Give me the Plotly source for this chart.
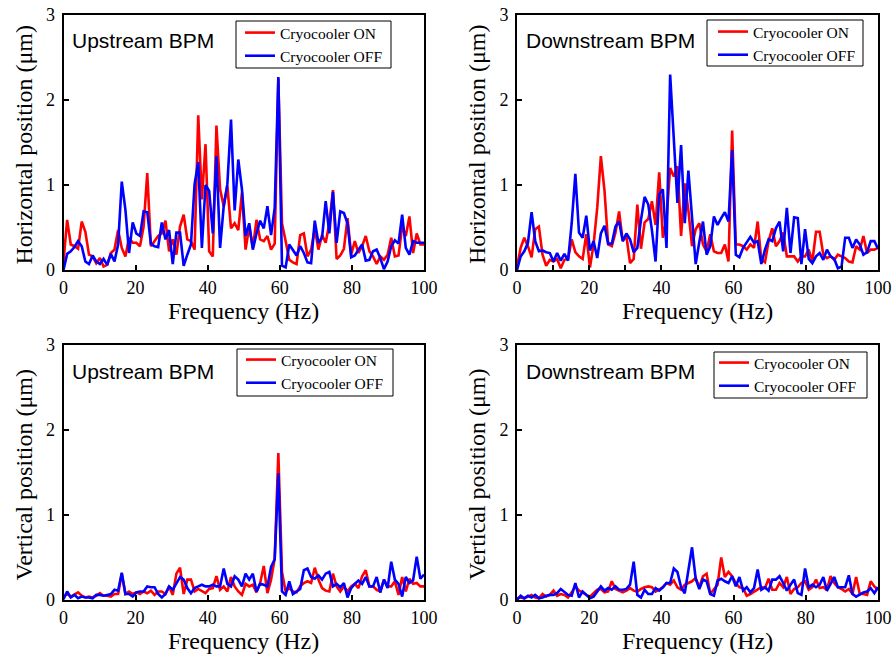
import numpy as np
import plotly.graph_objects as go
from plotly.subplots import make_subplots

# Frequency grid of the vibration spectra (Hz)
freq = np.linspace(0, 100, 100)

# Horizontal position spectra, upstream BPM (um)
h_up_on = [0.10, 0.59, 0.30, 0.28, 0.25, 0.57, 0.45, 0.18, 0.16, 0.08,
           0.14, 0.04, 0.06, 0.20, 0.24, 0.47, 0.26, 0.16, 0.38, 0.32,
           0.32, 0.28, 0.51, 1.14, 0.28, 0.34, 0.40, 0.43, 0.58, 0.22,
           0.36, 0.18, 0.51, 0.65, 0.36, 0.34, 0.24, 1.82, 0.83, 1.48,
           0.22, 0.16, 1.70, 0.95, 0.75, 0.99, 0.49, 0.55, 0.47, 0.91,
           0.24, 0.51, 0.26, 0.59, 0.36, 0.34, 0.40, 0.24, 0.31, 2.25,
           0.55, 0.34, 0.12, 0.09, 0.07, 0.41, 0.43, 0.16, 0.24, 0.49,
           0.24, 0.41, 0.32, 0.55, 0.94, 0.13, 0.17, 0.25, 0.61, 0.18,
           0.34, 0.20, 0.28, 0.40, 0.22, 0.16, 0.07, 0.16, 0.12, 0.18,
           0.38, 0.16, 0.17, 0.51, 0.40, 0.63, 0.20, 0.43, 0.30, 0.30]
h_up_off = [0.00, 0.19, 0.22, 0.27, 0.34, 0.28, 0.10, 0.07, 0.17, 0.10,
            0.07, 0.13, 0.06, 0.19, 0.10, 0.30, 1.04, 0.71, 0.20, 0.56,
            0.43, 0.40, 0.69, 0.68, 0.31, 0.28, 0.27, 0.56, 0.36, 0.47,
            0.07, 0.44, 0.44, 0.05, 0.18, 0.30, 1.01, 1.27, 0.26, 1.00,
            0.93, 0.43, 1.34, 0.26, 0.75, 1.01, 1.77, 0.70, 1.30, 0.95,
            0.40, 0.55, 0.24, 0.43, 0.58, 0.49, 0.75, 0.41, 0.73, 2.27,
            0.05, 0.03, 0.30, 0.23, 0.17, 0.28, 0.20, 0.09, 0.08, 0.58,
            0.32, 0.38, 0.81, 0.43, 0.92, 0.32, 0.69, 0.67, 0.55, 0.15,
            0.17, 0.24, 0.30, 0.11, 0.12, 0.22, 0.24, 0.14, 0.01, 0.10,
            0.28, 0.35, 0.31, 0.65, 0.26, 0.18, 0.34, 0.32, 0.32, 0.32]

# Horizontal position spectra, downstream BPM (um)
h_down_on = [0.04, 0.26, 0.38, 0.28, 0.15, 0.48, 0.51, 0.18, 0.05, 0.12,
             0.10, 0.13, 0.02, 0.12, 0.13, 0.36, 0.21, 0.16, 0.13, 0.42,
             0.03, 0.30, 0.73, 1.34, 0.93, 0.30, 0.28, 0.44, 0.69, 0.34,
             0.40, 0.08, 0.13, 0.77, 0.25, 0.56, 0.60, 0.81, 0.53, 1.15,
             0.38, 0.60, 1.20, 1.10, 1.22, 0.40, 1.02, 0.70, 0.28, 0.48,
             0.55, 0.30, 0.22, 0.42, 0.22, 0.20, 0.20, 0.30, 0.10, 1.64,
             0.30, 0.30, 0.28, 0.24, 0.30, 0.26, 0.57, 0.12, 0.09, 0.34,
             0.49, 0.28, 0.34, 0.44, 0.16, 0.16, 0.16, 0.10, 0.16, 0.16,
             0.24, 0.10, 0.45, 0.45, 0.18, 0.14, 0.16, 0.12, 0.18, 0.16,
             0.14, 0.10, 0.09, 0.28, 0.24, 0.40, 0.20, 0.24, 0.24, 0.26]
h_down_off = [0.00, 0.16, 0.22, 0.32, 0.68, 0.34, 0.22, 0.23, 0.21, 0.20,
              0.10, 0.20, 0.11, 0.19, 0.11, 0.55, 1.13, 0.44, 0.38, 0.64,
              0.23, 0.34, 0.14, 0.43, 0.52, 0.31, 0.31, 0.51, 0.57, 0.34,
              0.43, 0.36, 0.21, 0.26, 0.59, 0.86, 0.77, 0.47, 0.10, 0.89,
              0.95, 0.26, 2.30, 1.50, 0.79, 1.47, 0.55, 1.17, 0.60, 0.07,
              0.33, 0.57, 0.18, 0.28, 0.63, 0.53, 0.61, 0.68, 0.57, 1.41,
              0.18, 0.15, 0.26, 0.32, 0.39, 0.32, 0.34, 0.07, 0.24, 0.36,
              0.34, 0.49, 0.57, 0.22, 0.73, 0.20, 0.62, 0.61, 0.07, 0.48,
              0.13, 0.08, 0.16, 0.20, 0.12, 0.24, 0.16, 0.13, 0.02, 0.04,
              0.38, 0.38, 0.26, 0.36, 0.30, 0.18, 0.21, 0.34, 0.34, 0.25]

# Vertical position spectra, upstream BPM (um)
v_up_on = [0.04, 0.07, 0.04, 0.07, 0.09, 0.05, 0.03, 0.04, 0.03, 0.05,
           0.08, 0.05, 0.05, 0.04, 0.07, 0.07, 0.31, 0.07, 0.10, 0.07,
           0.09, 0.07, 0.10, 0.08, 0.11, 0.06, 0.10, 0.10, 0.07, 0.16,
           0.06, 0.31, 0.38, 0.07, 0.24, 0.24, 0.10, 0.13, 0.10, 0.08,
           0.13, 0.14, 0.28, 0.12, 0.16, 0.10, 0.27, 0.16, 0.10, 0.06,
           0.19, 0.16, 0.18, 0.09, 0.20, 0.40, 0.08, 0.24, 0.49, 1.73,
           0.33, 0.10, 0.14, 0.10, 0.09, 0.16, 0.20, 0.22, 0.20, 0.38,
           0.24, 0.14, 0.11, 0.10, 0.31, 0.16, 0.10, 0.16, 0.10, 0.16,
           0.19, 0.14, 0.28, 0.35, 0.16, 0.16, 0.12, 0.10, 0.24, 0.16,
           0.16, 0.22, 0.06, 0.27, 0.10, 0.25, 0.19, 0.20, 0.16, 0.16]
v_up_off = [0.01, 0.10, 0.03, 0.06, 0.02, 0.04, 0.03, 0.03, 0.02, 0.06,
            0.06, 0.05, 0.06, 0.07, 0.12, 0.11, 0.32, 0.07, 0.07, 0.04,
            0.09, 0.10, 0.10, 0.16, 0.15, 0.15, 0.07, 0.03, 0.07, 0.16,
            0.12, 0.19, 0.27, 0.24, 0.14, 0.08, 0.14, 0.16, 0.18, 0.16,
            0.16, 0.18, 0.16, 0.16, 0.37, 0.19, 0.16, 0.28, 0.24, 0.16,
            0.31, 0.24, 0.31, 0.10, 0.19, 0.18, 0.16, 0.39, 0.48, 1.49,
            0.10, 0.06, 0.22, 0.07, 0.10, 0.13, 0.35, 0.37, 0.27, 0.25,
            0.29, 0.24, 0.31, 0.33, 0.16, 0.19, 0.15, 0.20, 0.03, 0.14,
            0.19, 0.23, 0.19, 0.27, 0.16, 0.16, 0.27, 0.09, 0.24, 0.14,
            0.45, 0.24, 0.19, 0.04, 0.27, 0.20, 0.23, 0.51, 0.25, 0.30]

# Vertical position spectra, downstream BPM (um)
v_down_on = [0.02, 0.03, 0.02, 0.04, 0.06, 0.03, 0.02, 0.07, 0.04, 0.06,
             0.11, 0.05, 0.07, 0.06, 0.03, 0.09, 0.16, 0.11, 0.09, 0.06,
             0.04, 0.08, 0.12, 0.13, 0.09, 0.10, 0.22, 0.13, 0.11, 0.09,
             0.11, 0.14, 0.11, 0.10, 0.13, 0.15, 0.16, 0.15, 0.10, 0.13,
             0.15, 0.20, 0.18, 0.23, 0.15, 0.12, 0.18, 0.20, 0.22, 0.26,
             0.15, 0.28, 0.31, 0.07, 0.12, 0.18, 0.50, 0.27, 0.33, 0.28,
             0.20, 0.15, 0.14, 0.05, 0.07, 0.10, 0.12, 0.15, 0.14, 0.25,
             0.12, 0.12, 0.20, 0.15, 0.27, 0.07, 0.13, 0.15, 0.20, 0.22,
             0.12, 0.15, 0.24, 0.14, 0.15, 0.12, 0.28, 0.20, 0.15, 0.13,
             0.10, 0.13, 0.07, 0.27, 0.07, 0.07, 0.06, 0.22, 0.16, 0.12]
v_down_off = [0.00, 0.05, 0.02, 0.05, 0.03, 0.06, 0.02, 0.03, 0.05, 0.06,
              0.06, 0.08, 0.13, 0.09, 0.06, 0.05, 0.20, 0.03, 0.10, 0.06,
              0.02, 0.04, 0.10, 0.16, 0.11, 0.14, 0.12, 0.16, 0.12, 0.12,
              0.13, 0.18, 0.45, 0.06, 0.03, 0.12, 0.07, 0.07, 0.14, 0.11,
              0.15, 0.20, 0.20, 0.37, 0.33, 0.15, 0.08, 0.33, 0.62, 0.25,
              0.13, 0.24, 0.22, 0.07, 0.05, 0.23, 0.25, 0.22, 0.20, 0.28,
              0.16, 0.27, 0.11, 0.15, 0.09, 0.14, 0.36, 0.12, 0.15, 0.11,
              0.24, 0.24, 0.28, 0.20, 0.11, 0.18, 0.24, 0.08, 0.06, 0.37,
              0.15, 0.18, 0.15, 0.18, 0.27, 0.11, 0.20, 0.27, 0.15, 0.15,
              0.15, 0.29, 0.07, 0.04, 0.07, 0.09, 0.10, 0.14, 0.08, 0.15]

x_ticks = [0, 20, 40, 60, 80, 100]
y_ticks = [0, 1, 2, 3]
series_names = ["Cryocooler ON", "Cryocooler OFF"]
series_colors = ["#FF0000", "#0000FF"]
x_title = "Frequency (Hz)"

W, H = 893, 654
SERIF = "Liberation Serif, Times New Roman, serif"
SANS = "Liberation Sans, Arial, sans-serif"

panels = [
    # (row, col, on, off, title, y label, minor x ticks,
    #  legend frame (left, top, right, bottom) px, legend text left px, first row px)
    (1, 1, h_up_on, h_up_off, "Upstream BPM", "Horizontal position (\u03bcm)", False,
     (236, 21, 391, 68), 282, 35),
    (1, 2, h_down_on, h_down_off, "Downstream BPM", "Horizontal position (\u03bcm)", True,
     (707, 20, 863, 66), 755, 34),
    (2, 1, v_up_on, v_up_off, "Upstream BPM", "Vertical position (\u03bcm)", False,
     (237, 349, 393, 396), 283, 362),
    (2, 2, v_down_on, v_down_off, "Downstream BPM", "Vertical position (\u03bcm)", False,
     (714, 352, 867, 398), 756, 365),
]

# plot-area edges in pixels
x_px = {1: (63.5, 424.0), 2: (517.0, 878.0)}
y_px = {1: (15.0, 270.0), 2: (345.0, 600.0)}

fig = make_subplots(rows=2, cols=2)
layout_updates = {}
annotations = []
shapes = []


def px_x(v):
    return v / W


def px_y(v):
    return 1 - v / H


for k, (r, c, on, off, title, ylab, minor_x, frame, text_x, row1_y) in enumerate(panels):
    idx = k + 1
    leg = "legend" if idx == 1 else f"legend{idx}"
    for vals, name, color in zip([on, off], series_names, series_colors):
        fig.add_trace(go.Scatter(x=freq, y=vals, mode="lines", name=name,
                                 line=dict(color=color, width=2.6),
                                 legend=leg, showlegend=True),
                      row=r, col=c)
    sfx = "" if idx == 1 else str(idx)
    x0, x1 = x_px[c]
    y0, y1 = y_px[r]
    xa = dict(domain=[px_x(x0), px_x(x1)], range=[0, 100], tickvals=x_ticks,
              ticks="inside", ticklen=5, tickwidth=1.8, tickcolor="black",
              showline=True, linewidth=2, linecolor="black", mirror=True,
              showgrid=False, zeroline=False, automargin=False,
              tickfont=dict(family=SERIF, size=18, color="black"))
    if minor_x:
        xa["minor"] = dict(dtick=10, tick0=0, ticks="inside", ticklen=5,
                           tickwidth=1.8, tickcolor="black", showgrid=False)
    ya = dict(domain=[px_y(y1), px_y(y0)], range=[0, 3], tickvals=y_ticks,
              ticks="inside", ticklen=5, tickwidth=1.8, tickcolor="black",
              showline=True, linewidth=2, linecolor="black", mirror=True,
              showgrid=False, zeroline=False, automargin=False,
              ticklabelstandoff=3,
              tickfont=dict(family=SERIF, size=18, color="black"))
    layout_updates["xaxis" + sfx] = xa
    layout_updates["yaxis" + sfx] = ya

    # legend entries without their own frame; the frame is a shape behind them
    layout_updates[leg] = dict(x=px_x(text_x - 42), y=px_y(row1_y - 19),
                               xanchor="left", yanchor="top",
                               bgcolor="rgba(0,0,0,0)", borderwidth=0,
                               font=dict(family=SERIF, size=15.5, color="black"),
                               tracegroupgap=0, itemwidth=30)
    fl, ft, fr, fb = frame
    shapes.append(dict(type="rect", xref="paper", yref="paper",
                       x0=px_x(fl), x1=px_x(fr), y0=px_y(fb), y1=px_y(ft),
                       line=dict(color="black", width=1), fillcolor="white",
                       layer="above"))

    # panel label
    annotations.append(dict(text=title, x=px_x(x0 + 6.5), y=px_y(y0 + 26),
                            xref="paper", yref="paper", xanchor="left",
                            yanchor="middle", showarrow=False,
                            font=dict(family=SANS, size=21, color="black")))
    # axis titles
    annotations.append(dict(text=x_title, x=px_x((x0 + x1) / 2), y=px_y(y1 + 41),
                            xref="paper", yref="paper", xanchor="center",
                            yanchor="middle", showarrow=False,
                            font=dict(family=SERIF, size=24, color="black")))
    annotations.append(dict(text=ylab, x=px_x(x0 - 40.5), y=px_y((y0 + y1) / 2 + 2),
                            xref="paper", yref="paper", xanchor="center",
                            yanchor="middle", showarrow=False, textangle=-90,
                            font=dict(family=SERIF, size=24, color="black")))

fig.update_layout(**layout_updates)
fig.update_layout(width=W, height=H, margin=dict(l=0, r=0, t=0, b=0),
                  plot_bgcolor="white", paper_bgcolor="white",
                  annotations=annotations, shapes=shapes)

fig.write_html("out.html")
